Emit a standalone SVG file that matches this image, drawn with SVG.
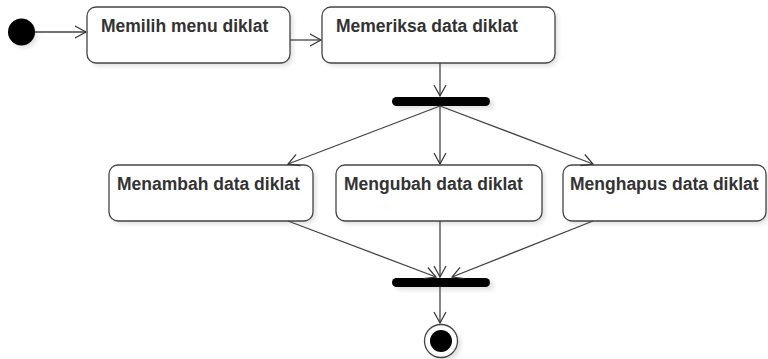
<svg xmlns="http://www.w3.org/2000/svg" width="768" height="359" viewBox="0 0 768 359">
<defs>
<marker id="arr" markerWidth="14" markerHeight="14" refX="12" refY="7" orient="auto" markerUnits="userSpaceOnUse">
<path d="M1,1 L12,7 L1,13" fill="none" stroke="#333" stroke-width="1.2"/>
</marker>
<filter id="sh" x="-10%" y="-10%" width="130%" height="140%">
<feGaussianBlur stdDeviation="2"/>
</filter>
</defs>
<style>
.box{fill:#fff;stroke:#444;stroke-width:1.3}
.shadow{fill:#ccc;opacity:0.6}
.lbl{font-family:"Liberation Sans",Arial,sans-serif;font-weight:bold;font-size:17.5px;fill:#333}
.edge{fill:none;stroke:#444;stroke-width:1.3;marker-end:url(#arr)}
.bar{fill:#000}
</style>
<rect width="768" height="359" fill="#fff"/>
<g id="start">
<circle cx="24" cy="35" r="13" class="shadow" filter="url(#sh)"/>
<circle cx="21.5" cy="32" r="13.5" fill="#000"/>
</g>
<g id="n1">
<rect x="90" y="10" width="203" height="56" rx="9" class="shadow" filter="url(#sh)"/>
<rect x="87" y="7" width="203" height="56" rx="9" class="box"/>
<text x="101" y="32" class="lbl">Memilih menu diklat</text>
</g>
<g id="n2">
<rect x="325" y="10" width="233" height="56" rx="9" class="shadow" filter="url(#sh)"/>
<rect x="322" y="7" width="233" height="56" rx="9" class="box"/>
<text x="336" y="32" class="lbl">Memeriksa data diklat</text>
</g>
<g id="fork">
<rect x="396" y="100" width="98" height="9" rx="4.5" class="shadow" filter="url(#sh)"/>
<rect x="392" y="97" width="98" height="9" rx="4.5" class="bar"/>
</g>
<g id="n3">
<rect x="112" y="168" width="204" height="56" rx="9" class="shadow" filter="url(#sh)"/>
<rect x="109" y="165" width="204" height="56" rx="9" class="box"/>
<text x="117" y="190" class="lbl">Menambah data diklat</text>
</g>
<g id="n4">
<rect x="339" y="168" width="206" height="56" rx="9" class="shadow" filter="url(#sh)"/>
<rect x="336" y="165" width="206" height="56" rx="9" class="box"/>
<text x="344" y="190" class="lbl">Mengubah data diklat</text>
</g>
<g id="n5">
<rect x="566" y="168" width="203" height="56" rx="9" class="shadow" filter="url(#sh)"/>
<rect x="563" y="165" width="203" height="56" rx="9" class="box"/>
<text x="570" y="190" class="lbl">Menghapus data diklat</text>
</g>
<g id="join">
<rect x="396" y="281" width="98" height="9" rx="4.5" class="shadow" filter="url(#sh)"/>
<rect x="392" y="278" width="98" height="9" rx="4.5" class="bar"/>
</g>
<g id="end">
<circle cx="444" cy="344" r="17" class="shadow" filter="url(#sh)"/>
<circle cx="441" cy="341" r="16.5" fill="#fff" stroke="#444" stroke-width="1.3"/>
<circle cx="441" cy="341" r="11" fill="#000"/>
</g>
<g id="connectors">
<path d="M35,32 L86,32" class="edge"/>
<path d="M290,40 L321,40" class="edge"/>
<path d="M440,63 L440,96" class="edge"/>
<path d="M440,106 L288,164" class="edge"/>
<path d="M440,106 L440,164" class="edge"/>
<path d="M440,106 L593,164" class="edge"/>
<path d="M288,221 L436,277" class="edge"/>
<path d="M440,221 L440,277" class="edge"/>
<path d="M593,221 L452,277" class="edge"/>
<path d="M440,287 L440,323" class="edge"/>
</g>
</svg>
